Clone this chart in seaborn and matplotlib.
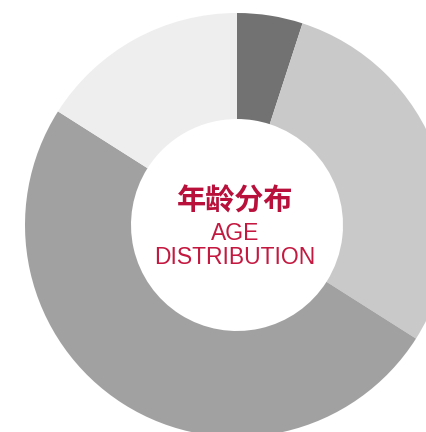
import matplotlib
matplotlib.use("Agg")
import matplotlib.pyplot as plt
import seaborn as sns

labels = ["A", "B", "C", "D"]
shares = [5, 29, 50, 16]
colors = ["#727272", "#c8c9c8", "#a0a1a0", "#eeeeee"]
title_cn = "年龄分布"
title_en = "AGE\nDISTRIBUTION"

sns.set_theme(style="white")
plt.rcParams['font.family'] = ['Noto Sans CJK SC', 'DejaVu Sans']

W, H = 427, 432
fig = plt.figure(figsize=(W / 100, H / 100), dpi=100)
ax = fig.add_axes([0, 0, 1, 1])
cx, cy, R = 237, H - 225, 212
ax.pie(shares, colors=colors, startangle=90, counterclock=False,
       center=(cx, cy), radius=R,
       wedgeprops=dict(width=R * 0.5, linewidth=0))
ax.set_xlim(0, W)
ax.set_ylim(0, H)
ax.set_aspect('equal')
ax.axis('off')

ax.text(235, H - 201, title_cn, ha='center', va='center', fontsize=21,
        fontweight='bold', color='#b80f3b', family=['Noto Sans CJK SC'])
ax.text(235, H - 245.5, title_en, ha='center', va='center', fontsize=16.5,
        color='#c41840', family=['Liberation Sans'], linespacing=1.05)

fig.savefig("out.png", dpi=100, facecolor='white')
